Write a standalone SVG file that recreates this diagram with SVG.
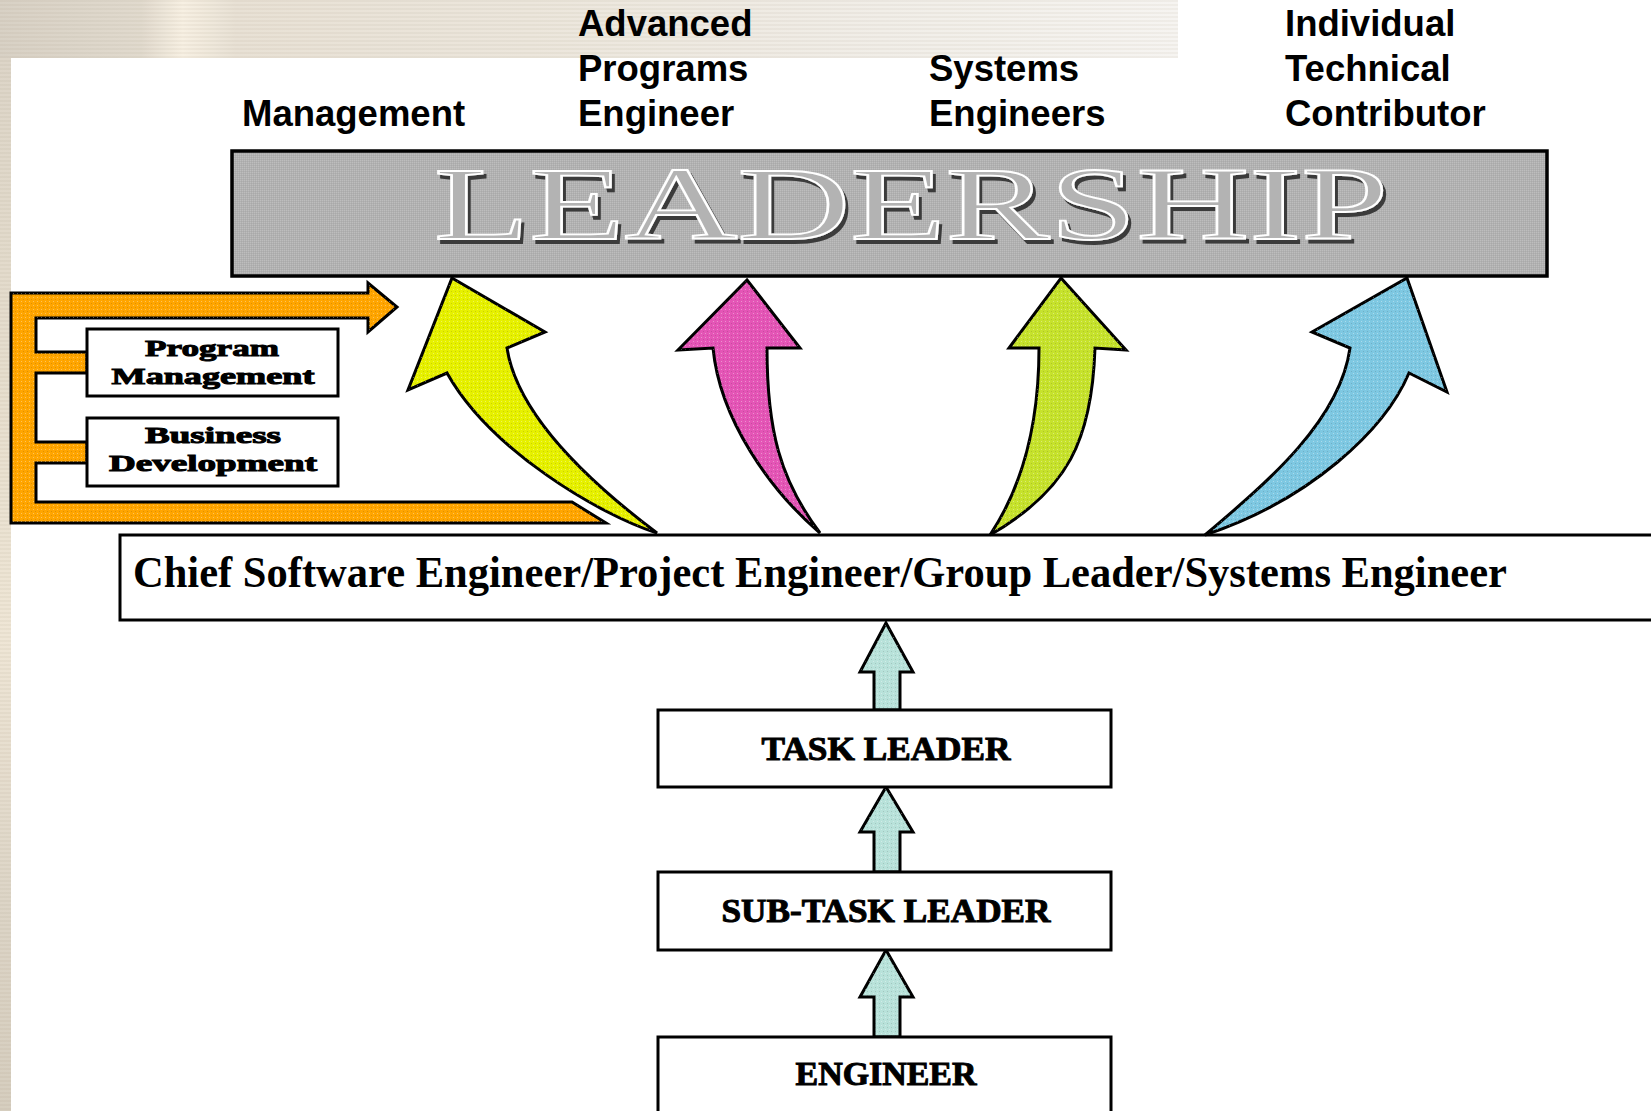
<svg xmlns="http://www.w3.org/2000/svg" xmlns:xlink="http://www.w3.org/1999/xlink" width="1651" height="1111" viewBox="0 0 1651 1111">
  <defs>
    <style>
      .role { font-family: "Liberation Sans", Arial, sans-serif; font-weight: bold; font-size: 36.5px; fill: #000; }
      .heavy { font-family: "Liberation Serif", "Times New Roman", serif; font-weight: bold; fill: #000; stroke: #000; stroke-width: 1; }
      .box { fill: #fff; stroke: #000; stroke-width: 3; }
      .shape { stroke: #000; stroke-width: 3; stroke-linejoin: miter; }
      .dots { fill: url(#dots); stroke: none; }
    </style>
    <!-- banner texture -->
    <linearGradient id="bandGrad" x1="0" y1="0" x2="1" y2="0">
      <stop offset="0" stop-color="#d8d1c5"/>
      <stop offset="0.12" stop-color="#e1dace"/>
      <stop offset="0.155" stop-color="#f7f0e3"/>
      <stop offset="0.2" stop-color="#e8e1d5"/>
      <stop offset="0.45" stop-color="#ece6dc"/>
      <stop offset="0.75" stop-color="#f1eee8"/>
      <stop offset="1" stop-color="#f6f4f1"/>
    </linearGradient>
    <linearGradient id="stripGrad" x1="0" y1="0" x2="0" y2="1">
      <stop offset="0" stop-color="#ddd5c8"/>
      <stop offset="0.3" stop-color="#e6dece"/>
      <stop offset="0.55" stop-color="#efe6d6"/>
      <stop offset="0.8" stop-color="#ddd5c7"/>
      <stop offset="1" stop-color="#d6cebf"/>
    </linearGradient>
    <pattern id="stripes" width="8" height="4" patternUnits="userSpaceOnUse">
      <rect width="8" height="2" fill="#8a7a60" opacity="0.07"/>
    </pattern>
    <!-- halftone dither for fills -->
    <pattern id="dots" width="4" height="4" patternUnits="userSpaceOnUse">
      <rect x="1" y="1" width="1" height="1" fill="#ffffff" opacity="0.35"/>
      <rect x="3" y="3" width="1" height="1" fill="#000000" opacity="0.12"/>
    </pattern>
    <pattern id="grayDither" width="2" height="2" patternUnits="userSpaceOnUse">
      <rect width="2" height="2" fill="#b1b1b1"/>
      <rect width="1" height="1" fill="#bdbdbd"/>
      <rect x="1" y="1" width="1" height="1" fill="#a9a9a9"/>
    </pattern>
    <!-- engraved look: dark offset shadow behind the outlined letters -->
    <filter id="engrave" x="-5%" y="-20%" width="110%" height="140%">
      <feOffset in="SourceAlpha" dx="3" dy="4" result="off"/>
      <feFlood flood-color="#3a3a3a"/>
      <feComposite in2="off" operator="in" result="shadow"/>
      <feMerge>
        <feMergeNode in="shadow"/>
        <feMergeNode in="SourceGraphic"/>
      </feMerge>
    </filter>
  </defs>

  <!-- page background -->
  <rect width="1651" height="1111" fill="#fff"/>
  <rect x="0" y="0" width="1178" height="58" fill="url(#bandGrad)"/>
  <rect x="0" y="0" width="1178" height="58" fill="url(#stripes)"/>
  <rect x="0" y="58" width="11" height="1053" fill="url(#stripGrad)"/>
  <rect x="0" y="58" width="11" height="1053" fill="url(#stripes)"/>

  <!-- role headings -->
  <g id="headings">
    <text class="role" x="242" y="126">Management</text>
    <text class="role" x="578" y="36">Advanced</text>
    <text class="role" x="578" y="81">Programs</text>
    <text class="role" x="578" y="126">Engineer</text>
    <text class="role" x="929" y="81">Systems</text>
    <text class="role" x="929" y="126">Engineers</text>
    <text class="role" x="1285" y="36">Individual</text>
    <text class="role" x="1285" y="81">Technical</text>
    <text class="role" x="1285" y="126">Contributor</text>
  </g>

  <!-- leadership banner -->
  <g id="leadership">
    <rect x="232" y="151" width="1315" height="125" fill="url(#grayDither)" stroke="#000" stroke-width="3.5"/>
    <text x="434" y="239" font-family="Liberation Serif, Times New Roman, serif" font-size="104" textLength="954" lengthAdjust="spacingAndGlyphs" fill="#b3b3b3" stroke="#ffffff" stroke-width="1.8" filter="url(#engrave)">LEADERSHIP</text>
  </g>

  <!-- connectors: orange bracket, curved arrows and step arrows -->
  <g id="connectors">
    <path id="bracket" class="shape" fill="#ffa500" d="M11,293 H368 V283 L397,307 L368,332 V318 H36 V352 H87 V373 H36 V442 H87 V463 H36 V502 H572 L606,523 H11 Z"/>
    <path class="dots" d="M11,293 H368 V283 L397,307 L368,332 V318 H36 V352 H87 V373 H36 V442 H87 V463 H36 V502 H572 L606,523 H11 Z"/>

    <path id="arrow-management" class="shape" fill="#e6f000" d="M452,278 L545,332 L507,348 C515,400 560,460 657,533 C600,515 490,450 447,373 L408,390 Z"/>
    <path class="dots" d="M452,278 L545,332 L507,348 C515,400 560,460 657,533 C600,515 490,450 447,373 L408,390 Z"/>

    <path id="arrow-advanced" class="shape" fill="#e455b6" d="M747,280 L800,348 L767,348 C767,430 780,480 820,533 C770,490 720,420 713,348 L678,350 Z"/>
    <path class="dots" d="M747,280 L800,348 L767,348 C767,430 780,480 820,533 C770,490 720,420 713,348 L678,350 Z"/>

    <path id="arrow-systems" class="shape" fill="#c6e22c" d="M1061,278 L1126,350 L1095,348 C1092,440 1068,490 990,535 C1020,490 1039,430 1039,348 L1009,348 Z"/>
    <path class="dots" d="M1061,278 L1126,350 L1095,348 C1092,440 1068,490 990,535 C1020,490 1039,430 1039,348 L1009,348 Z"/>

    <path id="arrow-individual" class="shape" fill="#7ec8e2" d="M1407,278 L1447,392 L1409,373 C1385,430 1310,500 1205,535 C1270,480 1340,420 1350,348 L1312,332 Z"/>
    <path class="dots" d="M1407,278 L1447,392 L1409,373 C1385,430 1310,500 1205,535 C1270,480 1340,420 1350,348 L1312,332 Z"/>

    <path id="step-task" class="shape" fill="#b8e2da" d="M886,623 L913,672 H900 V710 H874 V672 H860 Z"/>
    <path class="dots" d="M886,623 L913,672 H900 V710 H874 V672 H860 Z"/>
    <path id="step-subtask" class="shape" fill="#b8e2da" d="M886,787 L913,832 H900 V872 H874 V832 H860 Z"/>
    <path class="dots" d="M886,787 L913,832 H900 V872 H874 V832 H860 Z"/>
    <path id="step-engineer" class="shape" fill="#b8e2da" d="M886,950 L913,997 H900 V1037 H874 V997 H860 Z"/>
    <path class="dots" d="M886,950 L913,997 H900 V1037 H874 V997 H860 Z"/>
  </g>

  <!-- side functions -->
  <g id="program-management">
    <rect class="box" x="87" y="329" width="251" height="67"/>
    <text class="heavy" x="212" y="356" font-size="24" text-anchor="middle" textLength="134" lengthAdjust="spacingAndGlyphs">Program</text>
    <text class="heavy" x="213" y="384" font-size="24" text-anchor="middle" textLength="203" lengthAdjust="spacingAndGlyphs">Management</text>
  </g>
  <g id="business-development">
    <rect class="box" x="87" y="418" width="251" height="68"/>
    <text class="heavy" x="213" y="443" font-size="24" text-anchor="middle" textLength="136" lengthAdjust="spacingAndGlyphs">Business</text>
    <text class="heavy" x="213" y="471" font-size="24" text-anchor="middle" textLength="208" lengthAdjust="spacingAndGlyphs">Development</text>
  </g>

  <!-- chief engineer band -->
  <g id="chief">
    <rect class="box" x="120" y="535" width="1545" height="85" fill-opacity="0"/>
    <text x="133" y="587" font-family="Liberation Serif, Times New Roman, serif" font-weight="bold" font-size="45" textLength="1374" lengthAdjust="spacingAndGlyphs" fill="#000">Chief Software Engineer/Project Engineer/Group Leader/Systems Engineer</text>
  </g>

  <!-- hierarchy boxes -->
  <g id="task-leader">
    <rect class="box" x="658" y="710" width="453" height="77"/>
    <text class="heavy" x="886" y="760" font-size="33" text-anchor="middle" textLength="249" lengthAdjust="spacingAndGlyphs">TASK LEADER</text>
  </g>
  <g id="sub-task-leader">
    <rect class="box" x="658" y="872" width="453" height="78"/>
    <text class="heavy" x="886" y="922" font-size="33" text-anchor="middle" textLength="329" lengthAdjust="spacingAndGlyphs">SUB-TASK LEADER</text>
  </g>
  <g id="engineer">
    <rect class="box" x="658" y="1037" width="453" height="80"/>
    <text class="heavy" x="886" y="1085" font-size="33" text-anchor="middle" textLength="181" lengthAdjust="spacingAndGlyphs">ENGINEER</text>
  </g>
</svg>
